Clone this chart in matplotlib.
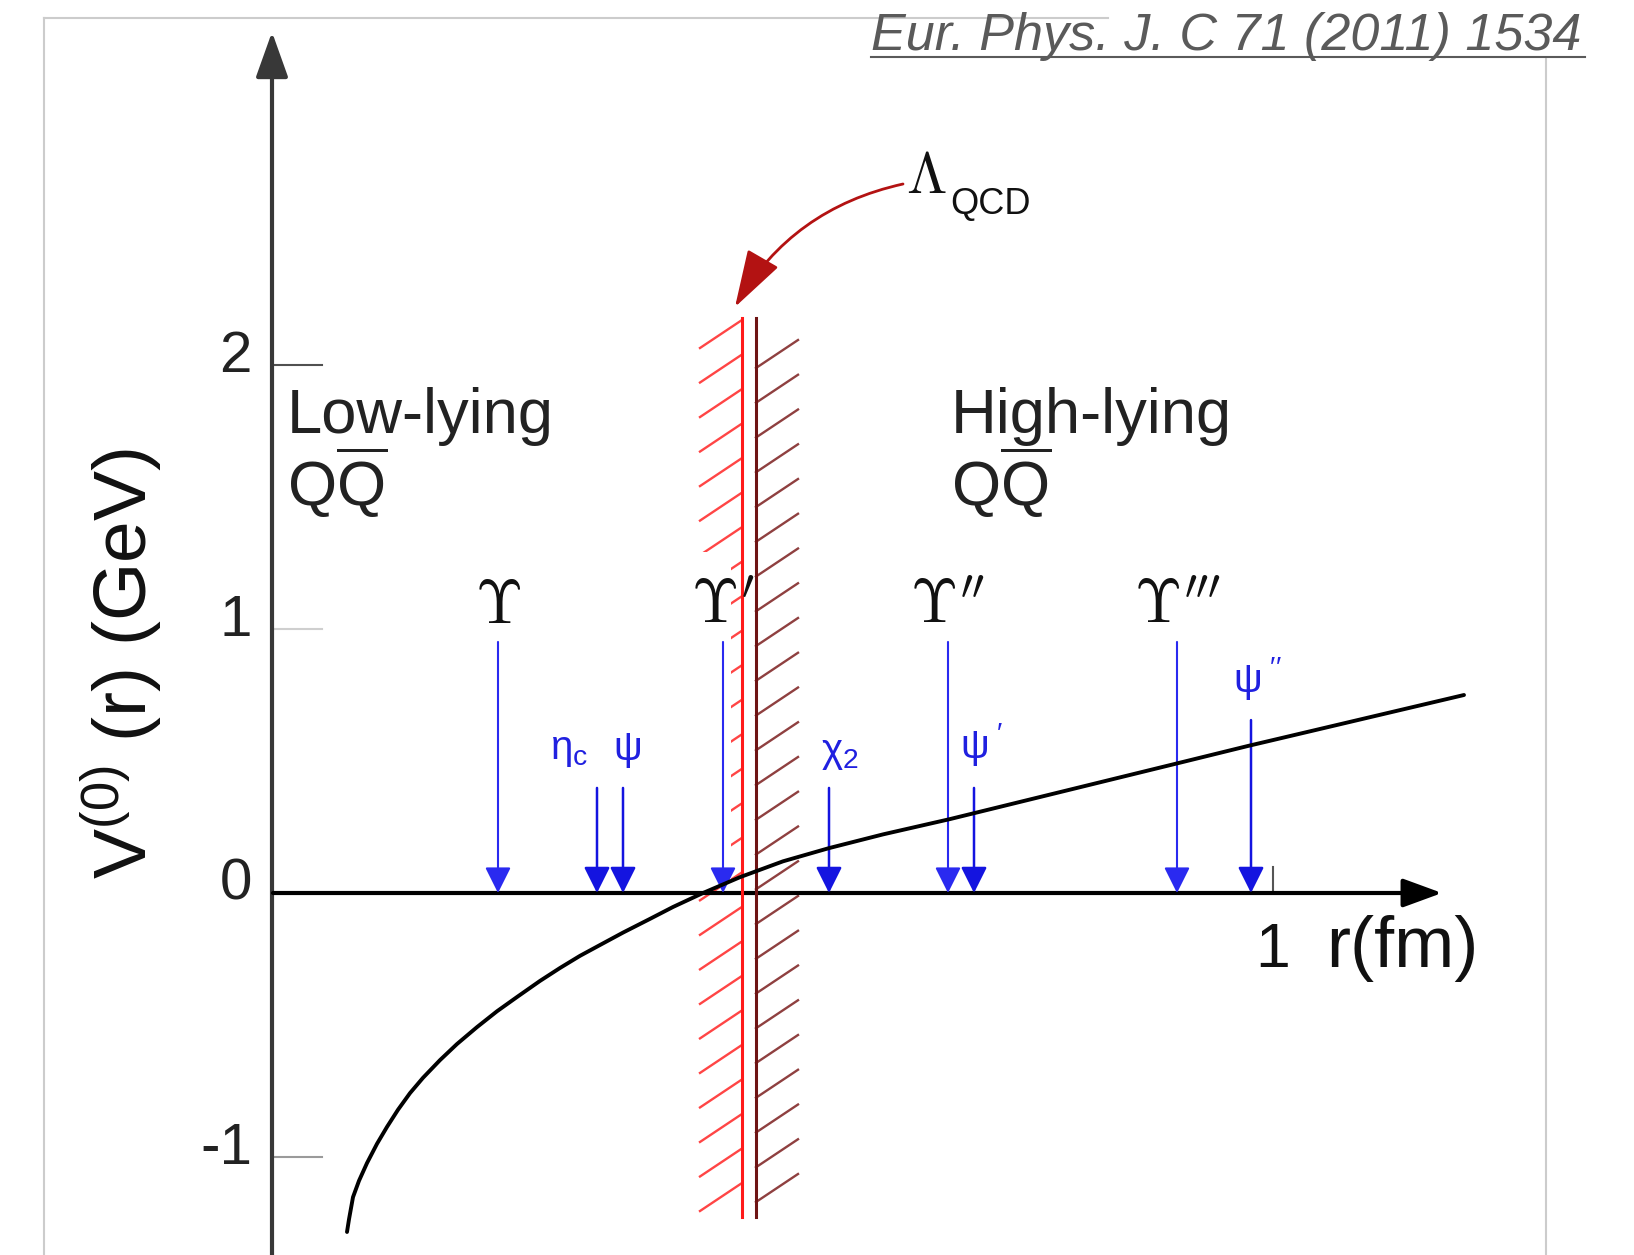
import matplotlib
matplotlib.use('Agg')
import matplotlib.pyplot as plt
from matplotlib.patches import FancyArrowPatch, Rectangle
import numpy as np

plt.rcParams['font.family'] = ['Liberation Sans', 'DejaVu Sans']
plt.rcParams['mathtext.fontset'] = 'custom'
plt.rcParams['mathtext.rm'] = 'Liberation Sans'
plt.rcParams['mathtext.it'] = 'Liberation Sans:italic'
plt.rcParams['mathtext.bf'] = 'Liberation Sans:bold'

# static potential V(r) (r in fm, V in GeV)
r_curve = [0.074, 0.076, 0.080, 0.086, 0.094, 0.104, 0.114, 0.125, 0.137, 0.150,
           0.167, 0.184, 0.204, 0.224, 0.244, 0.267, 0.287, 0.307, 0.327, 0.350,
           0.377, 0.400, 0.430, 0.467, 0.510, 0.556, 0.610, 0.677, 0.902, 0.975, 1.191]
V_curve = [-1.284, -1.236, -1.152, -1.090, -1.023, -0.950, -0.886, -0.821, -0.758, -0.700,
           -0.633, -0.572, -0.508, -0.448, -0.394, -0.333, -0.284, -0.238, -0.197, -0.150,
           -0.098, -0.053, 0.000, 0.060, 0.120, 0.170, 0.222, 0.280, 0.489, 0.557, 0.750]

# bottomonium (black labels) and charmonium (blue labels) states
ups_names = [r'\Upsilon', r'\Upsilon^{\prime}', r'\Upsilon^{\prime\prime}', r'\Upsilon^{\prime\prime\prime}']
ups_r = [0.225, 0.450, 0.675, 0.904]
ups_top = [0.951, 0.951, 0.951, 0.951]

cc_names = [r'$\mathrm{\eta_c}$', r'$\mathrm{\psi}$', r'$\mathrm{\chi_2}$',
            r'$\mathrm{\psi}^{\ \prime}$', r'$\mathrm{\psi}^{\ \prime\prime}$']
cc_r = [0.324, 0.350, 0.556, 0.701, 0.978]
cc_top = [0.398, 0.398, 0.398, 0.398, 0.655]

# Lambda_QCD wall (r in fm)
r_wall_red = 0.469
r_wall_dark = 0.483
wall_top, wall_bottom = 2.178, -1.227

yticks = [-1, 0, 1, 2]
ytick_labels = ['-1', '0', '1', '2']
ytick_colors = ['#9a9a9a', None, '#cfcfcf', '#505050']

W, H = 1634, 1255
fig = plt.figure(figsize=(W / 100, H / 100), dpi=100)
ax = fig.add_axes([0, 0, 1, 1])
X0, Y0, SX, SY = 273, 893, 1000, 264
ax.set_xlim(-X0 / SX, (W - X0) / SX)
ax.set_ylim(-(H - Y0) / SY, Y0 / SY)
ax.axis('off')


def px(x, y):
    # pixel position -> data position, only for placing decorations
    return (x - X0) / SX, (Y0 - y) / SY


# light grey frame
fc = '#cccccc'
ax.plot(*zip(px(44, 18), px(1108, 18)), color=fc, lw=1.5)
ax.plot(*zip(px(44, 18), px(44, 1255)), color=fc, lw=1.5)
ax.plot(*zip(px(1546, 58), px(1546, 1255)), color=fc, lw=1.5)

# axes with arrow heads
ax.annotate('', xy=px(272, 32), xytext=px(272, 1260),
            arrowprops=dict(arrowstyle='-|>,head_length=0.7,head_width=0.25', mutation_scale=40,
                            color='#383838', lw=3, shrinkA=0, shrinkB=0), zorder=3)
ax.annotate('', xy=px(1442, 893), xytext=(0, 0),
            arrowprops=dict(arrowstyle='-|>,head_length=0.6,head_width=0.22', mutation_scale=40,
                            color='black', lw=3, shrinkA=0, shrinkB=0), zorder=3)

# ticks
for v, lab, col in zip(yticks, ytick_labels, ytick_colors):
    if col is not None:
        ax.plot([0, 0.049], [v, v], color=col, lw=1.5, zorder=2)
    ax.text(px(252, 0)[0], v + 8 / SY, lab, ha='right', va='center', fontsize=42, color='#222222')
ax.plot([1, 1], [0, 26 / SY], color='#555555', lw=1.5)
ax.text(1, px(0, 967)[1], '1', ha='center', va='baseline', fontsize=45, color='#111111')
ax.text(px(1326, 0)[0], px(0, 967)[1], 'r(fm)', ha='left', va='baseline', fontsize=52, color='#111111')

ax.text(px(122, 0)[0], px(0, 664)[1], r'V$^{(0)}$ (r) (GeV)', rotation=90, ha='center', va='center',
        fontsize=54, color='#111111')

# region labels
ax.text(*px(287, 433), 'Low-lying', fontsize=45.5, va='baseline', color='#222222')
ax.text(*px(287, 507), r'Q$\overline{\mathrm{Q}}$', fontsize=45.5, va='baseline', color='#222222')
ax.text(*px(951, 433), 'High-lying', fontsize=45.5, va='baseline', color='#222222')
ax.text(*px(951, 507), r'Q$\overline{\mathrm{Q}}$', fontsize=45.5, va='baseline', color='#222222')

# Lambda_QCD wall with hatching
ax.plot([r_wall_red] * 2, [wall_top, wall_bottom], color='#ff1a1a', lw=2.2, zorder=4)
ax.plot([r_wall_dark] * 2, [wall_top, wall_bottom], color='#6e1414', lw=2.2, zorder=4)
hx, hy = 42 / SX, 28 / SY
for v in np.linspace(px(0, 320)[1], px(0, 1183)[1], 26):
    ax.plot([r_wall_red - hx, r_wall_red], [v - hy, v], color='#ff4545', lw=1.7, zorder=2)
for v in np.linspace(px(0, 368)[1], px(0, 1202)[1], 25):
    ax.plot([r_wall_dark, r_wall_dark + hx], [v, v + hy], color='#8f4040', lw=1.7, zorder=2)
# white patch behind the Upsilon' label and arrow
x0, y0 = px(688, 888)
x1, y1 = px(731, 552)
ax.add_patch(Rectangle((x0, y0), x1 - x0, y1 - y0, facecolor='white', edgecolor='none', zorder=3))

# potential curve
ax.plot(r_curve, V_curve, color='black', lw=2.8, zorder=7, solid_capstyle='round',
        solid_joinstyle='round')

# state arrows
for r, top in zip(ups_r, ups_top):
    ax.annotate('', xy=(r, 0), xytext=(r, top),
                arrowprops=dict(arrowstyle='-|>,head_length=0.4,head_width=0.2', mutation_scale=40,
                                color='#2a2af0', lw=1.5, shrinkA=0, shrinkB=0), zorder=6)
for r, top in zip(cc_r, cc_top):
    ax.annotate('', xy=(r, 0), xytext=(r, top),
                arrowprops=dict(arrowstyle='-|>,head_length=0.4,head_width=0.2', mutation_scale=40,
                                color='#1414e0', lw=1.8, shrinkA=0, shrinkB=0), zorder=6)

ub = px(0, 623)[1]
for name, r in zip(ups_names, ups_r):
    ax.text(r, ub, f'${name}$', ha='center', va='baseline', fontsize=44, math_fontfamily='cm',
            color='#111111', zorder=8)

blue = '#2020e0'
ax.text(px(550, 0)[0], px(0, 750)[1], cc_names[0], ha='left', va='center', fontsize=29, color=blue)
ax.text(px(627, 0)[0], px(0, 750)[1], cc_names[1], ha='center', va='center', fontsize=29, color=blue)
ax.text(px(821, 0)[0], px(0, 753)[1], cc_names[2], ha='left', va='center', fontsize=29, color=blue)
ax.text(px(960, 0)[0], px(0, 745)[1], cc_names[3], ha='left', va='center', fontsize=29, color=blue)
ax.text(px(1233, 0)[0], px(0, 678)[1], cc_names[4], ha='left', va='center', fontsize=29, color=blue)

# Lambda_QCD label and curved arrow
ax.text(*px(906, 193), r'$\Lambda$', fontsize=42, math_fontfamily='cm', va='baseline', color='#111111')
ax.text(*px(950, 214), 'QCD', fontsize=26, va='baseline', color='#111111')
ax.add_patch(FancyArrowPatch(px(903, 184), px(735, 307), connectionstyle='arc3,rad=0.22',
                             arrowstyle='-|>,head_length=0.9,head_width=0.28', mutation_scale=40,
                             color='#b31212', lw=2, shrinkA=0, shrinkB=0, zorder=5))

# journal reference
ax.text(*px(871, 50), 'Eur. Phys. J. C 71 (2011) 1534', fontsize=37.5, style='italic',
        va='baseline', color='#5a5a5a')
ax.plot(*zip(px(871, 57), px(1585, 57)), color='#5a5a5a', lw=1.5)

fig.savefig('out.png', dpi=100)
